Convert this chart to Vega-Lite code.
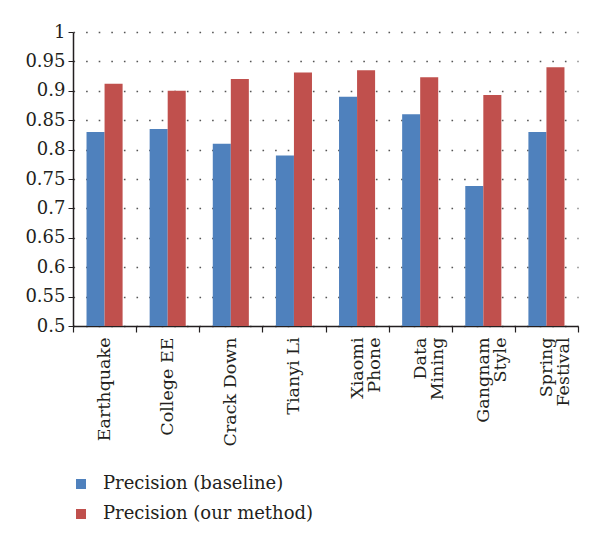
{
  "$schema": "https://vega.github.io/schema/vega-lite/v6.json",
  "width": 505,
  "height": 294,
  "autosize": {"type": "none"},
  "padding": {"left": 73, "top": 32, "right": 22, "bottom": 222},
  "background": "white",
  "data": {
    "values": [
      {"topic": "Earthquake", "series": "Precision (baseline)", "precision": 0.83},
      {"topic": "Earthquake", "series": "Precision (our method)", "precision": 0.912},
      {"topic": "College EE", "series": "Precision (baseline)", "precision": 0.835},
      {"topic": "College EE", "series": "Precision (our method)", "precision": 0.9},
      {"topic": "Crack Down", "series": "Precision (baseline)", "precision": 0.81},
      {"topic": "Crack Down", "series": "Precision (our method)", "precision": 0.92},
      {"topic": "Tianyi Li", "series": "Precision (baseline)", "precision": 0.79},
      {"topic": "Tianyi Li", "series": "Precision (our method)", "precision": 0.931},
      {"topic": "Xiaomi Phone", "series": "Precision (baseline)", "precision": 0.89},
      {"topic": "Xiaomi Phone", "series": "Precision (our method)", "precision": 0.935},
      {"topic": "Data Mining", "series": "Precision (baseline)", "precision": 0.86},
      {"topic": "Data Mining", "series": "Precision (our method)", "precision": 0.923},
      {"topic": "Gangnam Style", "series": "Precision (baseline)", "precision": 0.738},
      {"topic": "Gangnam Style", "series": "Precision (our method)", "precision": 0.893},
      {"topic": "Spring Festival", "series": "Precision (baseline)", "precision": 0.83},
      {"topic": "Spring Festival", "series": "Precision (our method)", "precision": 0.94}
    ]
  },
  "mark": {"type": "bar", "clip": true},
  "encoding": {
    "x": {
      "field": "topic",
      "type": "nominal",
      "sort": null,
      "scale": {"paddingInner": 0, "paddingOuter": 0},
      "axis": {
        "title": null,
        "labelAngle": -90,
        "labelFont": "DejaVu Serif",
        "labelFontSize": 17.5,
        "labelLineHeight": 17,
        "labelColor": "#231f20",
        "labelPadding": 5,
        "labelLimit": 0,
        "tickBand": "extent",
        "tickSize": 6,
        "tickColor": "#231f20",
        "domainColor": "#231f20",
        "domainWidth": 1.5,
        "tickWidth": 1.2,
        "labelExpr": "indexof(['Xiaomi Phone','Data Mining','Gangnam Style','Spring Festival'], datum.value) >= 0 ? split(datum.value, ' ') : datum.value"
      }
    },
    "xOffset": {
      "field": "series",
      "type": "nominal",
      "scale": {"paddingInner": 0, "paddingOuter": 0.75}
    },
    "y": {
      "field": "precision",
      "type": "quantitative",
      "scale": {"domain": [0.5, 1], "zero": false, "nice": false},
      "axis": {
        "title": null,
        "values": [0.5, 0.55, 0.6, 0.65, 0.7, 0.75, 0.8, 0.85, 0.9, 0.95, 1],
        "format": ".2~f",
        "labelFont": "DejaVu Serif",
        "labelFontSize": 18,
        "labelColor": "#231f20",
        "labelPadding": 3,
        "tickSize": 5,
        "tickColor": "#231f20",
        "domainColor": "#231f20",
        "domainWidth": 1.5,
        "grid": true,
        "gridColor": "#555555",
        "gridDash": [1.6, 11],
        "gridWidth": 1.6
      }
    },
    "color": {
      "field": "series",
      "type": "nominal",
      "scale": {"range": ["#4F81BD", "#C0504D"]},
      "legend": {
        "title": null,
        "orient": "none",
        "legendX": -1,
        "legendY": 443,
        "direction": "vertical",
        "symbolType": "square",
        "symbolSize": 100,
        "symbolStrokeWidth": 0,
        "labelFont": "DejaVu Serif",
        "labelFontSize": 18,
        "labelLimit": 0,
        "labelColor": "#231f20",
        "labelOffset": 13,
        "rowPadding": 12,
        "padding": 0
      }
    }
  },
  "config": {
    "view": {"stroke": null}
  }
}
